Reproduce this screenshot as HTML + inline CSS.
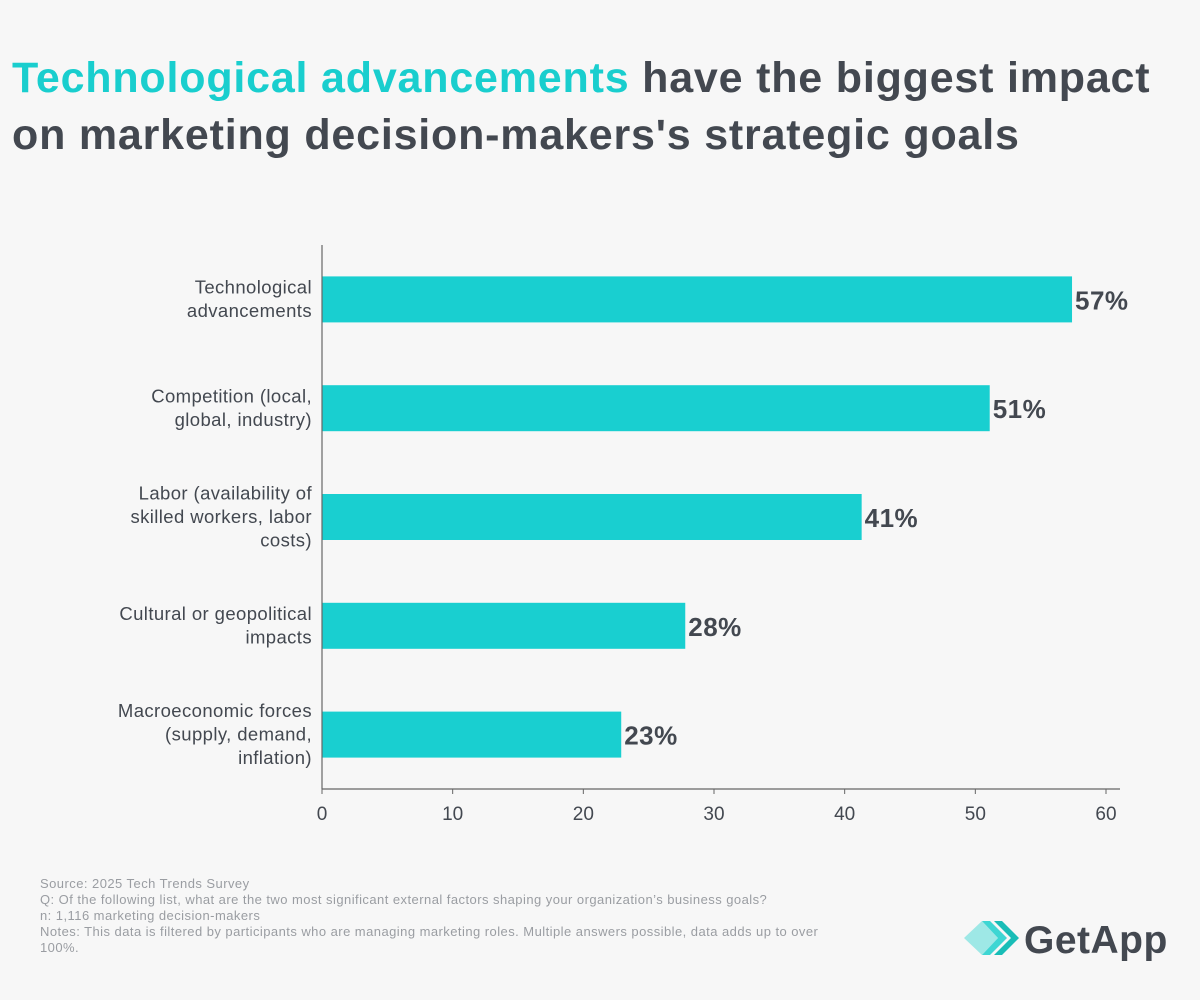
<!DOCTYPE html>
<html><head><meta charset="utf-8"><style>
body{margin:0;background:#f7f7f7;font-family:"Liberation Sans",sans-serif;}
#wrap{position:relative;width:1200px;height:1000px;background:#f7f7f7;overflow:hidden}
h1{position:absolute;left:12px;top:50px;margin:0;font-size:43px;line-height:57px;font-weight:bold;color:#434850;letter-spacing:0.8px;white-space:nowrap}
h1 span{color:#19cece}
#foot{position:absolute;left:40px;top:876px;font-size:13px;line-height:16px;color:#9a9da2;width:815px;letter-spacing:0.45px}
</style></head><body>
<div id="wrap">
<h1><span>Technological advancements</span> have the biggest impact<br>on marketing decision-makers's strategic goals</h1>
<svg id="chart" width="1200" height="1000" style="position:absolute;left:0;top:0"></svg>
<div id="foot">Source: 2025 Tech Trends Survey<br>Q: Of the following list, what are the two most significant external factors shaping your organization’s business goals?<br>n: 1,116 marketing decision-makers<br>Notes: This data is filtered by participants who are managing marketing roles. Multiple answers possible, data adds up to over<br>100%.</div>
<svg style="position:absolute;left:962px;top:918px" width="215" height="44">
<polygon points="2,20 20,3 36,20 20,37" fill="#9ee8e6"/>
<polygon points="20,3 28,3 45,20 28,37 20,37 36,20" fill="#3ed6d3"/>
<polygon points="32,3 40,3 57,20 40,37 32,37 49,20" fill="#19bdb7"/>
<text x="62" y="35" font-size="39" font-weight="bold" fill="#434850" font-family="Liberation Sans, sans-serif" letter-spacing="0.5">GetApp</text>
</svg>
</div>
<script>
const categories=[["Technological","advancements"],["Competition (local,","global, industry)"],["Labor (availability of","skilled workers, labor","costs)"],["Cultural or geopolitical","impacts"],["Macroeconomic forces","(supply, demand,","inflation)"]];
const values=[57.4,51.1,41.3,27.8,22.9];
const valueLabels=["57%","51%","41%","28%","23%"];
const ticks=[0,10,20,30,40,50,60];
const svg=document.getElementById('chart');
const NS='http://www.w3.org/2000/svg';
const x0=322,x1=1106,yTop=245,yBot=789;
const xs=v=>x0+(x1-x0)*v/60;
const band=(yBot-yTop)/categories.length;
function mk(t,a,txt){const e=document.createElementNS(NS,t);for(const k in a)e.setAttribute(k,a[k]);if(txt!=null)e.textContent=txt;svg.appendChild(e);return e;}
categories.forEach((c,i)=>{
 const cy=yTop+band*(i+0.5);
 const b=mk('rect',{x:x0,y:cy-23,width:xs(values[i])-x0,height:46,fill:'#19cfd0'});
 
 
 const v=mk('text',{x:xs(values[i])+3,y:cy+10,'font-size':26,'font-weight':'bold',fill:'#434850','letter-spacing':0.5},valueLabels[i]);
 
 
 const n=c.length,lh=23.5;
 c.forEach((l,j)=>{
  const t=mk('text',{x:312,y:cy+6+(j-(n-1)/2)*lh,'text-anchor':'end','font-size':18.5,fill:'#434850','letter-spacing':0.4},l);
  
  
 });
});
mk('line',{x1:x0,y1:yTop,x2:x0,y2:yBot,stroke:'#666','stroke-width':1.2});
mk('line',{x1:x0,y1:yBot,x2:1120,y2:yBot,stroke:'#666','stroke-width':1.2});
ticks.forEach(t=>{
 mk('line',{x1:xs(t),y1:yBot,x2:xs(t),y2:yBot+5,stroke:'#666'});
 const e=mk('text',{x:xs(t),y:yBot+31,'text-anchor':'middle','font-size':19,fill:'#434850'},t);
 
 
});
</script>
</body></html>
